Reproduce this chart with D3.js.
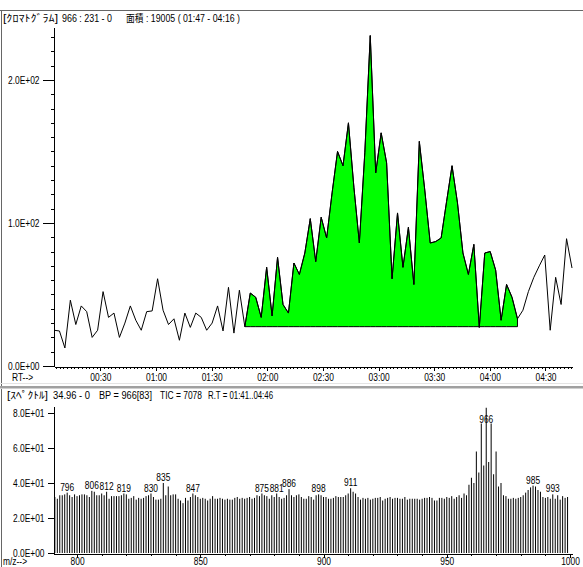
<!DOCTYPE html>
<html>
<head>
<meta charset="utf-8">
<script src="https://cdn.jsdelivr.net/npm/d3@7"></script>
<style>
body { margin: 0; background: #fff; }
svg { display: block; }
text { font-family: "Liberation Sans", "Noto Sans CJK JP", sans-serif; font-size: 10px; fill: #000; }
.axis path, .axis line { stroke: #000; shape-rendering: crispEdges; }
</style>
</head>
<body>
<svg id="chart" width="583" height="567"></svg>
<script>
// chromatogram: one intensity per scan
var chromStart = 5;        // RT of first scan (s)
var chromInterval = 2.94;  // s per scan
var chromIntensity = [25, 24.5, 12.6, 46, 29, 42, 38, 20, 25, 52,
  34, 37, 20, 30, 42, 32, 25, 38, 38.5, 61,
  39, 29, 33, 18, 37, 27, 37, 34, 25, 30,
  42, 24.5, 55, 23, 53, 27.5, 51, 48, 34, 69,
  35, 76, 43, 37, 72, 64, 79, 103, 73, 104,
  89.5, 121, 150, 140, 170, 125, 86, 149, 231, 135,
  163, 142, 61, 107, 69, 97, 57, 157, 123, 86,
  87, 89.5, 115, 140, 114, 79, 64, 85, 27, 79,
  80, 67, 32, 57, 48, 33, 39, 52, 62, 70,
  77.6, 25, 62, 43, 89, 68.5];
var areaRange = [107, 256]; // 01:47 - 04:16

var chromXTicks = [30, 60, 90, 120, 150, 180, 210, 240, 270];
var chromXLabels = ["00:30", "01:00", "01:30", "02:00", "02:30", "03:00", "03:30", "04:00", "04:30"];
var chromYTicks = [0, 100, 200];
var chromYLabels = ["0.0E+00", "1.0E+02", "2.0E+02"];

// spectrum: one intensity per m/z from 791
var specStart = 791;
var specIntensity = [32, 31, 33, 33, 33.5, 34.5, 33, 32, 33.5, 32.5,
  33, 33.5, 33.5, 33, 32, 35.5, 35, 33, 33, 34,
  33, 35, 31, 32.5, 32.5, 32.5, 32.5, 33, 34, 33.5,
  31, 31.5, 32.5, 30.5, 31.5, 31, 31.5, 32.5, 33, 34,
  32, 30.5, 30.5, 31, 40, 33, 38, 33, 33.5, 33.5,
  31, 30, 28.5, 31.5, 30, 32, 34, 33, 32, 31,
  31.5, 31, 30, 31, 32.5, 31, 31, 31.5, 31, 30.5,
  31, 30.5, 30.5, 31.5, 32, 31, 31.5, 31, 31.5, 32,
  31, 31.5, 33, 32.5, 34, 33, 32.5, 31, 33, 32,
  34, 32, 31, 31.5, 33, 36.5, 33, 32, 33, 33.5,
  32, 31, 31, 32.5, 32, 30.5, 33, 33.5, 33, 32,
  32, 31, 31, 31.5, 32.5, 32, 32, 32, 33, 34,
  37, 35, 34, 32, 30.5, 31.5, 31, 31.5, 30.5, 31,
  31.5, 31.5, 32, 30, 31, 31.5, 32, 31, 31.5, 31.5,
  31, 31, 32, 30.5, 31, 31, 31, 31, 30.5, 31,
  31.5, 31.5, 32, 31.5, 30, 30, 31.5, 31.5, 31, 32,
  31.5, 32.5, 31, 32, 33, 31.5, 34, 33, 39, 43,
  40, 58, 46, 74, 50, 83, 52, 74, 45, 58,
  38, 40, 33, 32.5, 31, 31, 31.5, 31, 31.5, 32,
  33, 34.5, 36, 37.5, 38.5, 38, 36, 35, 32, 31.5,
  32, 31, 33.5, 31, 33, 30.5, 32.5, 31.5, 32];
var specPeakLabels = [796, 806, 812, 819, 830, 835, 847, 875, 881, 886, 898, 911, 966, 985, 993];

var specXTicks = [800, 850, 900, 950, 1000];
var specXLabels = ["800", "850", "900", "950", "1000"];
var specYTicks = [0, 20, 40, 60, 80];
var specYLabels = ["0.0E+00", "2.0E+01", "4.0E+01", "6.0E+01", "8.0E+01"];

var svg = d3.select("#chart");

var chrom = chromIntensity.map(function(v, i) {
  return { rt: chromStart + i * chromInterval, v: v };
});
var spec = specIntensity.map(function(v, i) {
  return { mz: specStart + i, v: v };
});

// ---- panel frames
svg.append("line").attr("x1", 0).attr("x2", 583).attr("y1", 10.5).attr("y2", 10.5).attr("stroke", "#666");
svg.append("line").attr("x1", 1.5).attr("x2", 1.5).attr("y1", 10).attr("y2", 386).attr("stroke", "#666");
svg.append("line").attr("x1", 0).attr("x2", 583).attr("y1", 383.5).attr("y2", 383.5).attr("stroke", "#e4e4e4");
svg.append("rect").attr("x", 0).attr("y", 386).attr("width", 583).attr("height", 2.5).attr("fill", "#a0a0a0");
svg.append("line").attr("x1", 1.5).attr("x2", 1.5).attr("y1", 389).attr("y2", 567).attr("stroke", "#666");

// ---- headers (narrow UI font in the original, so widths are fixed)
function header(x, y, w, s) {
  svg.append("text").attr("x", x).attr("y", y)
    .attr("textLength", w).attr("lengthAdjust", "spacingAndGlyphs").text(s);
}
header(3, 21.5, 55, "[ｸﾛﾏﾄｸﾞﾗﾑ]");
header(62, 21.5, 50, "966 : 231 - 0");
header(126, 21.5, 114, "面積 : 19005 ( 01:47 - 04:16 )");

header(7, 398.5, 41, "[ｽﾍﾟｸﾄﾙ]");
header(53, 398.5, 37, "34.96 - 0");
header(99, 398.5, 53, "BP = 966[83]");
header(160, 398.5, 42, "TIC = 7078");
header(208, 398.5, 65, "R.T = 01:41..04:46");

// ---- chromatogram
var xC = d3.scaleLinear()
  .domain([chrom[0].rt, chrom[chrom.length - 1].rt])
  .range([54, 572]);
var yC = d3.scaleLinear().domain([0, 237]).range([366, 27]);

var inArea = chrom.filter(function(d) { return d.rt >= areaRange[0] && d.rt <= areaRange[1]; });
var baseVal = Math.min(inArea[0].v, inArea[inArea.length - 1].v);

var area = d3.area()
  .x(function(d) { return xC(d.rt); })
  .y0(yC(baseVal))
  .y1(function(d) { return yC(d.v); });

svg.append("path")
  .datum(inArea)
  .attr("d", area)
  .attr("fill", "#00ff00")
  .attr("stroke", "#000")
  .attr("stroke-width", 1);

var line = d3.line()
  .x(function(d) { return xC(d.rt); })
  .y(function(d) { return yC(d.v); });

svg.append("path")
  .datum(chrom)
  .attr("d", line)
  .attr("fill", "none")
  .attr("stroke", "#000")
  .attr("stroke-width", 1);

// y axis (minor every 10, labelled every 100)
svg.append("g").attr("class", "axis")
  .attr("transform", "translate(53.5,0)")
  .call(d3.axisLeft(yC).tickValues(d3.range(0, 231, 10)).tickSize(3).tickSizeOuter(0).tickFormat(""));
svg.append("g").attr("class", "axis squeeze")
  .attr("transform", "translate(53.5,0)")
  .call(d3.axisLeft(yC).tickValues(chromYTicks).tickSize(11).tickPadding(3)
    .tickFormat(function(d, i) { return chromYLabels[i]; }))
  .call(function(g) { g.select(".domain").remove(); });

// x axis
svg.append("g").attr("class", "axis")
  .attr("transform", "translate(0,366.5)")
  .call(d3.axisBottom(xC).tickValues(d3.range(6, 285, 2)).tickSize(2).tickSizeOuter(0).tickFormat(""));
svg.append("g").attr("class", "axis squeeze")
  .attr("transform", "translate(0,366.5)")
  .call(d3.axisBottom(xC).tickValues(chromXTicks).tickSize(4).tickPadding(3)
    .tickFormat(function(d, i) { return chromXLabels[i]; }))
  .call(function(g) { g.select(".domain").remove(); });

svg.append("text").attr("class", "sq").attr("x", 12).attr("y", 381).text("RT-->");

// ---- spectrum
var xS = d3.scaleLinear().domain([790.25, 1000.8]).range([53, 572]);
var yS = d3.scaleLinear().domain([0, 84]).range([553, 406]);

svg.append("g").selectAll("line")
  .data(spec)
  .enter()
  .append("line")
  .attr("x1", function(d) { return xS(d.mz); })
  .attr("x2", function(d) { return xS(d.mz); })
  .attr("y1", yS(0))
  .attr("y2", function(d) { return yS(d.v); })
  .attr("stroke", "#000")
  .attr("stroke-width", 1);

var labelled = spec.filter(function(d) { return specPeakLabels.indexOf(d.mz) >= 0; });
svg.append("g").attr("class", "squeeze").selectAll("text")
  .data(labelled)
  .enter()
  .append("text")
  .attr("x", function(d) { return xS(d.mz); })
  .attr("y", function(d) { return Math.max(yS(d.v) - 2, 423); })
  .attr("text-anchor", "middle")
  .text(function(d) { return d.mz; });

svg.append("g").attr("class", "axis squeeze")
  .attr("transform", "translate(53.5,0)")
  .call(d3.axisLeft(yS).tickValues(specYTicks).tickSize(6).tickSizeOuter(0).tickPadding(3)
    .tickFormat(function(d, i) { return specYLabels[i]; }));

svg.append("g").attr("class", "axis")
  .attr("transform", "translate(0,553.5)")
  .call(d3.axisBottom(xS).tickValues(d3.range(800, 1001, 10)).tickSize(2).tickSizeOuter(0).tickFormat(""));
svg.append("g").attr("class", "axis squeeze")
  .attr("transform", "translate(0,553.5)")
  .call(d3.axisBottom(xS).tickValues(specXTicks).tickSize(4).tickPadding(0)
    .tickFormat(function(d, i) { return specXLabels[i]; }))
  .call(function(g) { g.select(".domain").remove(); });

svg.append("text").attr("class", "sq").attr("x", 3).attr("y", 565).text("m/z-->");

// narrow the Latin labels to the width of the original UI font
svg.selectAll(".squeeze text, text.sq").each(function() {
  var w = this.getComputedTextLength();
  d3.select(this).attr("textLength", w * 0.84).attr("lengthAdjust", "spacingAndGlyphs");
});
</script>
</body>
</html>
